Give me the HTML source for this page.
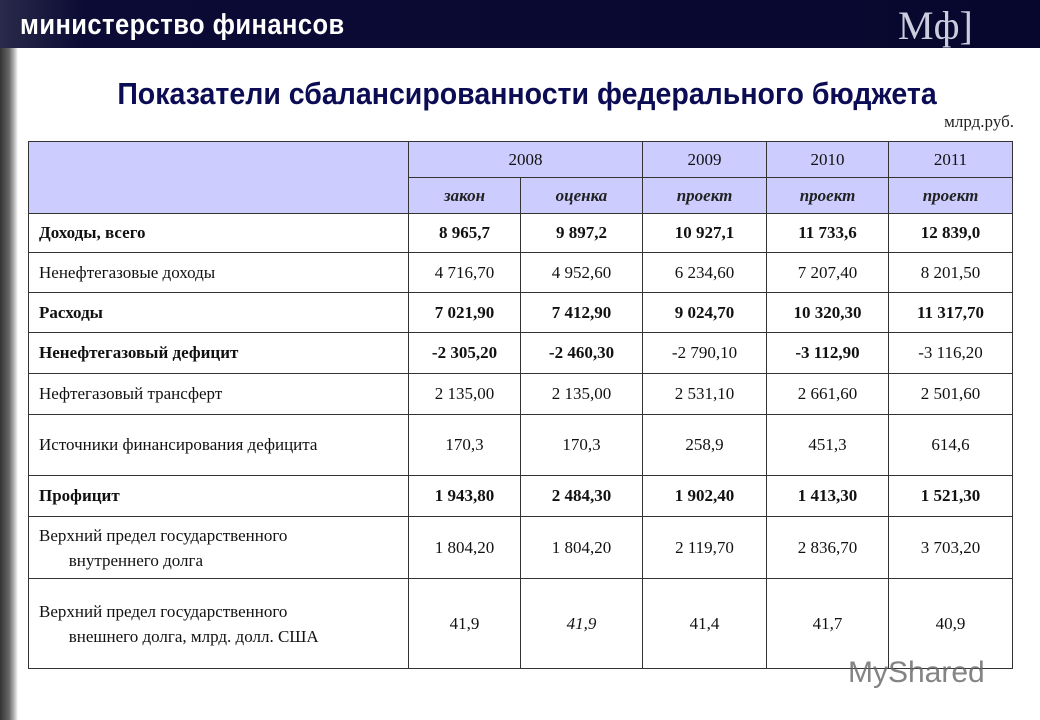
<!DOCTYPE html>
<html><head><meta charset="utf-8"><style>
body{margin:0;width:1040px;height:720px;position:relative;background:#fff;overflow:hidden;font-family:"Liberation Serif",serif}
#banner{position:absolute;left:0;top:0;width:1040px;height:48px;background:linear-gradient(90deg,#2a2a4a 0,#0b0b36 8%,#07072e 100%)}
#banner .t{position:absolute;left:20px;top:9px;color:#fff;font:bold 29px "Liberation Sans Narrow","Liberation Sans",sans-serif;transform:scaleX(.88);transform-origin:left;letter-spacing:0.5px}
#banner .m{position:absolute;left:898px;top:2px;color:#ccd;font:40px "Liberation Serif",serif}
#strip{position:absolute;left:0;top:48px;width:18px;height:672px;background:linear-gradient(90deg,#333 0,#666 50%,#bbb 80%,#fff 100%)}
#title{position:absolute;left:0;width:1054px;top:76px;text-align:center;color:#0c0c55;font:bold 31px "Liberation Sans Narrow","Liberation Sans",sans-serif;transform:scaleX(.92)}
#unit{position:absolute;right:26px;top:112px;font-size:17px;color:#222}
table{position:absolute;left:28px;top:141px;border-collapse:collapse;font-size:17px;color:#111}
td{border:1px solid #333;text-align:center;padding:0}
td.l{text-align:left;padding-left:10px}
.h{background:#ccccff}
.i{font-style:italic;font-weight:bold;color:#222}
.b td{font-weight:bold}
#ms{position:absolute;left:848px;top:656px;color:#666;font:30px "Liberation Sans",sans-serif;opacity:.8}
</style></head><body>
<div id="banner"><div class="t">министерство финансов</div><div class="m">Mф]</div></div>
<div id="strip"></div>
<div id="title">Показатели сбалансированности федерального бюджета</div>
<div id="unit">млрд.руб.</div>
<table>
<colgroup><col style="width:380px"><col style="width:112px"><col style="width:122px"><col style="width:124px"><col style="width:122px"><col style="width:124px"></colgroup>
<tr style="height:36px"><td class="h" rowspan="2"></td><td class="h" colspan="2">2008</td><td class="h">2009</td><td class="h">2010</td><td class="h">2011</td></tr>
<tr style="height:36px"><td class="h i">закон</td><td class="h i">оценка</td><td class="h i">проект</td><td class="h i">проект</td><td class="h i">проект</td></tr>
<tr class="b" style="height:39px"><td class="l">Доходы, всего</td><td>8 965,7</td><td>9 897,2</td><td>10 927,1</td><td>11 733,6</td><td>12 839,0</td></tr>
<tr style="height:40px"><td class="l">Ненефтегазовые доходы</td><td>4 716,70</td><td>4 952,60</td><td>6 234,60</td><td>7 207,40</td><td>8 201,50</td></tr>
<tr class="b" style="height:40px"><td class="l">Расходы</td><td>7 021,90</td><td>7 412,90</td><td>9 024,70</td><td>10 320,30</td><td>11 317,70</td></tr>
<tr class="b" style="height:41px"><td class="l">Ненефтегазовый дефицит</td><td>-2 305,20</td><td>-2 460,30</td><td style="font-weight:normal">-2 790,10</td><td>-3 112,90</td><td style="font-weight:normal">-3 116,20</td></tr>
<tr style="height:41px"><td class="l">Нефтегазовый трансферт</td><td>2 135,00</td><td>2 135,00</td><td>2 531,10</td><td>2 661,60</td><td>2 501,60</td></tr>
<tr style="height:61px"><td class="l">Источники финансирования дефицита</td><td>170,3</td><td>170,3</td><td>258,9</td><td>451,3</td><td>614,6</td></tr>
<tr class="b" style="height:41px"><td class="l">Профицит</td><td>1 943,80</td><td>2 484,30</td><td>1 902,40</td><td>1 413,30</td><td>1 521,30</td></tr>
<tr style="height:62px"><td class="l" style="line-height:25px">Верхний предел государственного<br>&nbsp;&nbsp;&nbsp;&nbsp;&nbsp;&nbsp;&nbsp;внутреннего долга</td><td>1 804,20</td><td>1 804,20</td><td>2 119,70</td><td>2 836,70</td><td>3 703,20</td></tr>
<tr style="height:90px"><td class="l" style="line-height:25px">Верхний предел государственного<br>&nbsp;&nbsp;&nbsp;&nbsp;&nbsp;&nbsp;&nbsp;внешнего долга, млрд. долл. США</td><td>41,9</td><td style="font-style:italic">41,9</td><td>41,4</td><td>41,7</td><td>40,9</td></tr>
</table>
<div id="ms">MyShared</div>
</body></html>
